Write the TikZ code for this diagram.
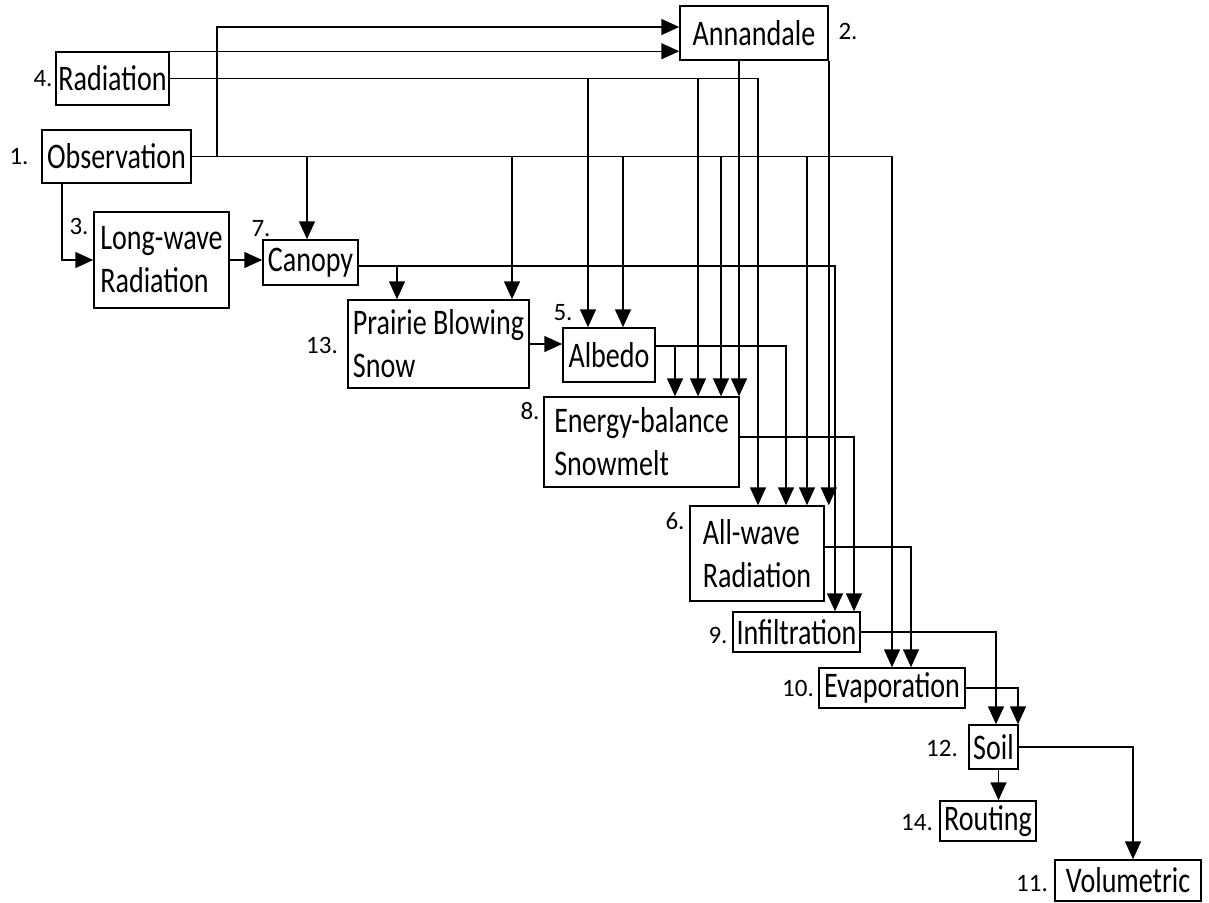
\documentclass[tikz,border=0pt]{standalone}
\usepackage{fontspec}
\setmainfont{Carlito}
\newfontfamily\boxfont{Carlito}[FakeStretch=0.78]
\usetikzlibrary{arrows.meta,positioning,calc}

\begin{document}
\begin{tikzpicture}[x=1pt,y=-1pt,
  box/.style={draw,line width=1.5pt,inner sep=2pt,align=left,font=\boxfont\fontsize{36}{43}\selectfont},
  num/.style={inner sep=0pt,font=\fontsize{25}{30}\selectfont},
  arr/.style={line width=1.5pt,-{Triangle[length=18pt,width=16pt]}}]
  \useasboundingbox (0,0) rectangle (1209,902);

  % modules
  \node[box,minimum width=113pt,minimum height=53pt] (rad) at (112.5,78.5) {Radiation};
  \node[box,minimum width=149pt,minimum height=53pt] (obs) at (116.5,156.5) {Observation};
  \node[box,minimum width=148pt,minimum height=54pt] (ann) at (754,33) {Annandale};
  \node[box,minimum width=135pt,minimum height=96pt] (lw) at (161.5,260) {Long-wave\\Radiation};
  \node[box,minimum width=95pt,minimum height=45pt] (can) at (310.5,262.5) {Canopy};
  \node[box,minimum width=181pt,minimum height=88pt] (pbs) at (438.5,344) {Prairie Blowing\\Snow};
  \node[box,minimum width=92pt,minimum height=54pt] (alb) at (609,355) {Albedo};
  \node[box,minimum width=195pt,minimum height=90pt] (ebs) at (641.5,442) {Energy-balance\\Snowmelt};
  \node[box,minimum width=134pt,minimum height=95pt] (awr) at (757,553.5) {All-wave\\Radiation};
  \node[box,minimum width=127pt,minimum height=40pt] (inf) at (796.5,632) {Infiltration};
  \node[box,minimum width=146pt,minimum height=40pt] (eva) at (892,688) {Evaporation};
  \node[box,minimum width=49pt,minimum height=44pt] (soil) at (993.5,747) {Soil};
  \node[box,minimum width=96pt,minimum height=40pt] (rout) at (988,821) {Routing};
  \node[box,minimum width=146pt,minimum height=41pt] (vol) at (1128,880.5) {Volumetric};

  % numbers
  \node[num] (n1) at (19,157) {1.};
  \node[num] (n2) at (848,31) {2.};
  \node[num] (n3) at (79,226) {3.};
  \node[num] (n4) at (43,79) {4.};
  \node[num] (n5) at (563,313) {5.};
  \node[num] (n6) at (675,521) {6.};
  \node[num] (n7) at (261,229) {7.};
  \node[num] (n8) at (530,411) {8.};
  \node[num] (n9) at (718,635) {9.};
  \node[num] (n10) at (798,688) {10.};
  \node[num] (n11) at (1032,884) {11.};
  \node[num] (n12) at (942,748) {12.};
  \node[num] (n13) at (322,345) {13.};
  \node[num] (n14) at (917,823) {14.};

  % observation and radiation feeds
  \draw[arr] (obs.east) -- ++(25,0) |- ([yshift=6pt]ann.west);
  \draw[arr] (rad.north east) -- (rad.north east -| ann.west);
  \draw[arr] (rad.east) -| ([xshift=-21pt]alb.north);
  \draw[arr] (rad.east) -| ([xshift=56.5pt]ebs.north);
  \draw[arr] (rad.east) -| ([xshift=1pt]awr.north);
  \draw[arr] ([xshift=-54.5pt]obs.south) |- (lw.west);
  \draw[arr] (obs.east) -| ([xshift=-3.5pt]can.north);
  \draw[arr] (obs.east) -| ([xshift=73.5pt]pbs.north);
  \draw[arr] (obs.east) -| ([xshift=14pt]alb.north);
  \draw[arr] (obs.east) -| ([xshift=79.5pt]ebs.north);
  \draw[arr] (obs.east) -| ([xshift=50pt]awr.north);
  \draw[arr] (obs.east) -| (eva.north);

  % annandale
  \coordinate (annA) at ([xshift=-15pt]ann.south);
  \draw[arr] (annA) -- (annA |- ebs.north);
  \draw[arr] (ann.south east) -- (ann.south east |- awr.north);

  % chain
  \draw[arr] (lw.east) -- (lw.east -| can.west);
  \draw[arr] ([yshift=-3.5pt]can.east) -| ([xshift=-41.5pt]pbs.north);
  \draw[arr] ([yshift=-3.5pt]can.east) -| ([xshift=38.5pt]inf.north);
  \draw[arr] (pbs.east) -- (pbs.east -| alb.west);
  \draw[arr] ([yshift=9pt]alb.east) -| ([xshift=33.5pt]ebs.north);
  \draw[arr] ([yshift=9pt]alb.east) -| ([xshift=29pt]awr.north);
  \draw[arr] ([yshift=5pt]ebs.east) -| ([xshift=57.5pt]inf.north);
  \draw[arr] ([yshift=6.5pt]awr.east) -| ([xshift=19pt]eva.north);
  \draw[arr] (inf.east) -| ([xshift=2.5pt]soil.north);
  \draw[arr] (eva.east) -| ([xshift=24.5pt]soil.north);
  \coordinate (soilB) at ([xshift=5pt]soil.south);
  \draw[arr] (soilB) -- (soilB |- rout.north);
  \draw[arr] (soil.east) -| ([xshift=5pt]vol.north);
\end{tikzpicture}
\end{document}
